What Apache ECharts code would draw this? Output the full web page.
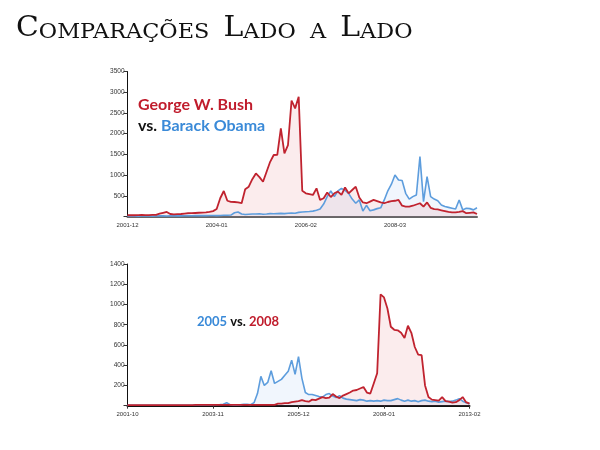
<!DOCTYPE html>
<html><head><meta charset="utf-8">
<script src="https://cdn.jsdelivr.net/npm/echarts@6/dist/echarts.min.js"></script>
<style>html,body{margin:0;padding:0;background:#fff}#c{width:600px;height:450px}</style>
</head><body><div id="c"></div>
<script>
// ---- Top chart: George W. Bush vs. Barack Obama (monthly, from 2001-12) ----
const topBush = [
  30,35,30,35,40,35,35,40,40,70,90,110,60,
  50,55,60,70,80,80,85,90,95,100,110,
  130,180,440,615,380,355,350,340,320,660,720,900,1040,950,840,1080,
  1320,1485,1490,2130,1525,1725,2800,2610,2890,620,560,540,520,680,400,440,
  580,470,560,600,520,700,560,640,720,460,340,320,360,400,370,340,320,350,
  370,380,400,260,240,240,260,290,320,240,340,210,180,170,150,130,110,100,
  100,110,130,80,90,100,60
];
const topObama = [
  10,10,12,10,12,15,12,10,12,15,15,12,15,18,15,15,18,20,18,20,20,22,20,25,25,22,25,30,30,35,
  90,110,60,50,55,60,60,65,55,60,70,65,70,75,70,80,85,80,100,110,115,120,130,150,180,
  300,480,615,480,620,680,630,560,420,320,400,130,270,140,160,190,210,400,620,780,
  1000,880,870,560,420,480,520,1445,360,960,480,420,380,280,240,220,200,180,400,160,
  200,190,160,210
];
const topStart = [2001, 12];
const topTickLabels = ['2001-12', '2004-01', '2006-02', '2008-03'];
const topYMax = 3500, topYStep = 500;

// ---- Bottom chart: 2005 vs. 2008 (monthly, from 2001-10) ----
const bottom2005 = [
  5,5,5,5,5,5,5,5,5,5,5,5,5,5,5,5,5,5,5,5,8,8,8,8,8,10,10,12,
  15,30,10,5,5,8,15,15,10,30,120,290,200,230,345,220,240,260,300,340,450,310,485,270,
  130,110,110,100,90,85,110,120,95,80,100,75,65,60,55,50,60,55,45,50,45,50,45,55,50,
  50,60,70,55,45,55,45,50,40,50,55,45,40,45,35,40,45,40,45,55,70,45,30,20
];
const bottom2008 = [
  5,5,5,5,5,5,5,5,5,5,5,5,5,5,5,5,5,5,5,5,
  8,8,8,8,8,8,8,8,8,8,8,8,8,8,8,8,8,8,8,8,8,8,8,8,
  20,20,25,25,35,40,45,55,45,40,60,55,70,85,75,80,115,90,75,100,115,130,150,155,170,185,
  130,120,220,320,1100,1070,960,780,750,745,720,670,790,720,580,505,500,200,85,60,55,50,
  85,45,40,30,35,55,85,35,20
];
const bottomStart = [2001, 10];
const bottomTickLabels = ['2001-10', '2003-11', '2005-12', '2008-01', '2013-02'];
const bottomYMax = 1400, bottomYStep = 200;

const tickEvery = 25;

function months(start, n) {
  const out = [];
  let y = start[0], m = start[1];
  for (let i = 0; i < n; i++) {
    out.push(y + '-' + String(m).padStart(2, '0'));
    m++; if (m > 12) { m = 1; y++; }
  }
  return out;
}
function yFmt(v) { return v === 0 ? '' : String(v); }

const RED = '#c0232f', BLUE = '#5d9ddd';
const redFill = 'rgba(225,90,100,0.17)', blueFill = 'rgba(110,165,230,0.14)';

const chart = echarts.init(document.getElementById('c'), null, {renderer: 'canvas'});
const axisLblX = (labels) => ({
  interval: tickEvery - 1, fontSize: 6, color: '#333', margin: 6,
  fontFamily: 'Liberation Sans',
  formatter: (v, idx) => labels[Math.round(idx / tickEvery)] || ''
});

chart.setOption({
  backgroundColor: '#fff',
  animation: false,
  grid: [
    {left: 127.5, right: 123, top: 71.5, bottom: 233.5},
    {left: 127.5, right: 130.5, top: 264, bottom: 44.3}
  ],
  xAxis: [
    {type: 'category', gridIndex: 0, boundaryGap: false, data: months(topStart, topBush.length),
     axisLine: {lineStyle: {color: '#666', width: 2}},
     axisTick: {show: false},
     axisLabel: axisLblX(topTickLabels)},
    {type: 'category', gridIndex: 1, boundaryGap: false, data: months(bottomStart, bottom2005.length),
     axisLine: {lineStyle: {color: '#111', width: 2}},
     axisTick: {show: true, interval: tickEvery - 1, length: 3, lineStyle: {color: '#333'}},
     axisLabel: axisLblX(bottomTickLabels)}
  ],
  yAxis: [
    {type: 'value', gridIndex: 0, min: 0, max: topYMax, interval: topYStep,
     axisLine: {show: true, lineStyle: {color: '#111', width: 1}},
     axisTick: {show: true, length: 4, lineStyle: {color: '#333'}},
     splitLine: {show: false},
     axisLabel: {fontSize: 6.5, color: '#333', margin: 3, fontFamily: 'Liberation Sans', formatter: yFmt}},
    {type: 'value', gridIndex: 1, min: 0, max: bottomYMax, interval: bottomYStep,
     axisLine: {show: true, lineStyle: {color: '#111', width: 1}},
     axisTick: {show: true, length: 4, lineStyle: {color: '#333'}},
     splitLine: {show: false},
     axisLabel: {fontSize: 6.5, color: '#333', margin: 3, fontFamily: 'Liberation Sans', formatter: yFmt}}
  ],
  series: [
    {name: 'Barack Obama', type: 'line', xAxisIndex: 0, yAxisIndex: 0, data: topObama,
     showSymbol: false, lineStyle: {color: BLUE, width: 1.6}, areaStyle: {color: blueFill}},
    {name: 'George W. Bush', type: 'line', xAxisIndex: 0, yAxisIndex: 0, data: topBush,
     showSymbol: false, lineStyle: {color: RED, width: 1.8}, areaStyle: {color: redFill}},
    {name: '2005', type: 'line', xAxisIndex: 1, yAxisIndex: 1, data: bottom2005,
     showSymbol: false, lineStyle: {color: BLUE, width: 1.6}, areaStyle: {color: blueFill}},
    {name: '2008', type: 'line', xAxisIndex: 1, yAxisIndex: 1, data: bottom2008,
     showSymbol: false, lineStyle: {color: RED, width: 1.8}, areaStyle: {color: redFill}}
  ],
  graphic: [
    {type: 'text', x: 16, y: 15, scaleX: 1.065, style: {
      text: '{a|C}{b|OMPARAÇÕES  }{a|L}{b|ADO  A  }{a|L}{b|ADO}',
      rich: {
        a: {fontFamily: 'DejaVu Serif', fontSize: 28, lineHeight: 28, verticalAlign: 'bottom', fill: '#111'},
        b: {fontFamily: 'DejaVu Serif', fontSize: 21, lineHeight: 23, verticalAlign: 'bottom', fill: '#111'}
      }}},
    {type: 'text', x: 138, y: 104.5, style: {
      text: 'George W. Bush', fontFamily: 'Lato', fontWeight: 'bold', fontSize: 16,
      fill: '#c01c2c', verticalAlign: 'middle'}},
    {type: 'text', x: 138, y: 126, style: {
      text: '{k|vs. }{b|Barack Obama}', verticalAlign: 'middle',
      rich: {
        k: {fontFamily: 'Lato', fontWeight: 'bold', fontSize: 16, fill: '#111'},
        b: {fontFamily: 'Lato', fontWeight: 'bold', fontSize: 16, fill: '#3a8ad8'}
      }}},
    {type: 'text', x: 197, y: 321.5, style: {
      text: '{b|2005}{k| vs. }{r|2008}', verticalAlign: 'middle',
      rich: {
        b: {fontFamily: 'Lato', fontWeight: 'bold', fontSize: 13, fill: '#3a8ad8'},
        k: {fontFamily: 'Lato', fontWeight: 'bold', fontSize: 13, fill: '#111'},
        r: {fontFamily: 'Lato', fontWeight: 'bold', fontSize: 13, fill: '#c01c2c'}
      }}}
  ]
});
</script>
</body></html>
